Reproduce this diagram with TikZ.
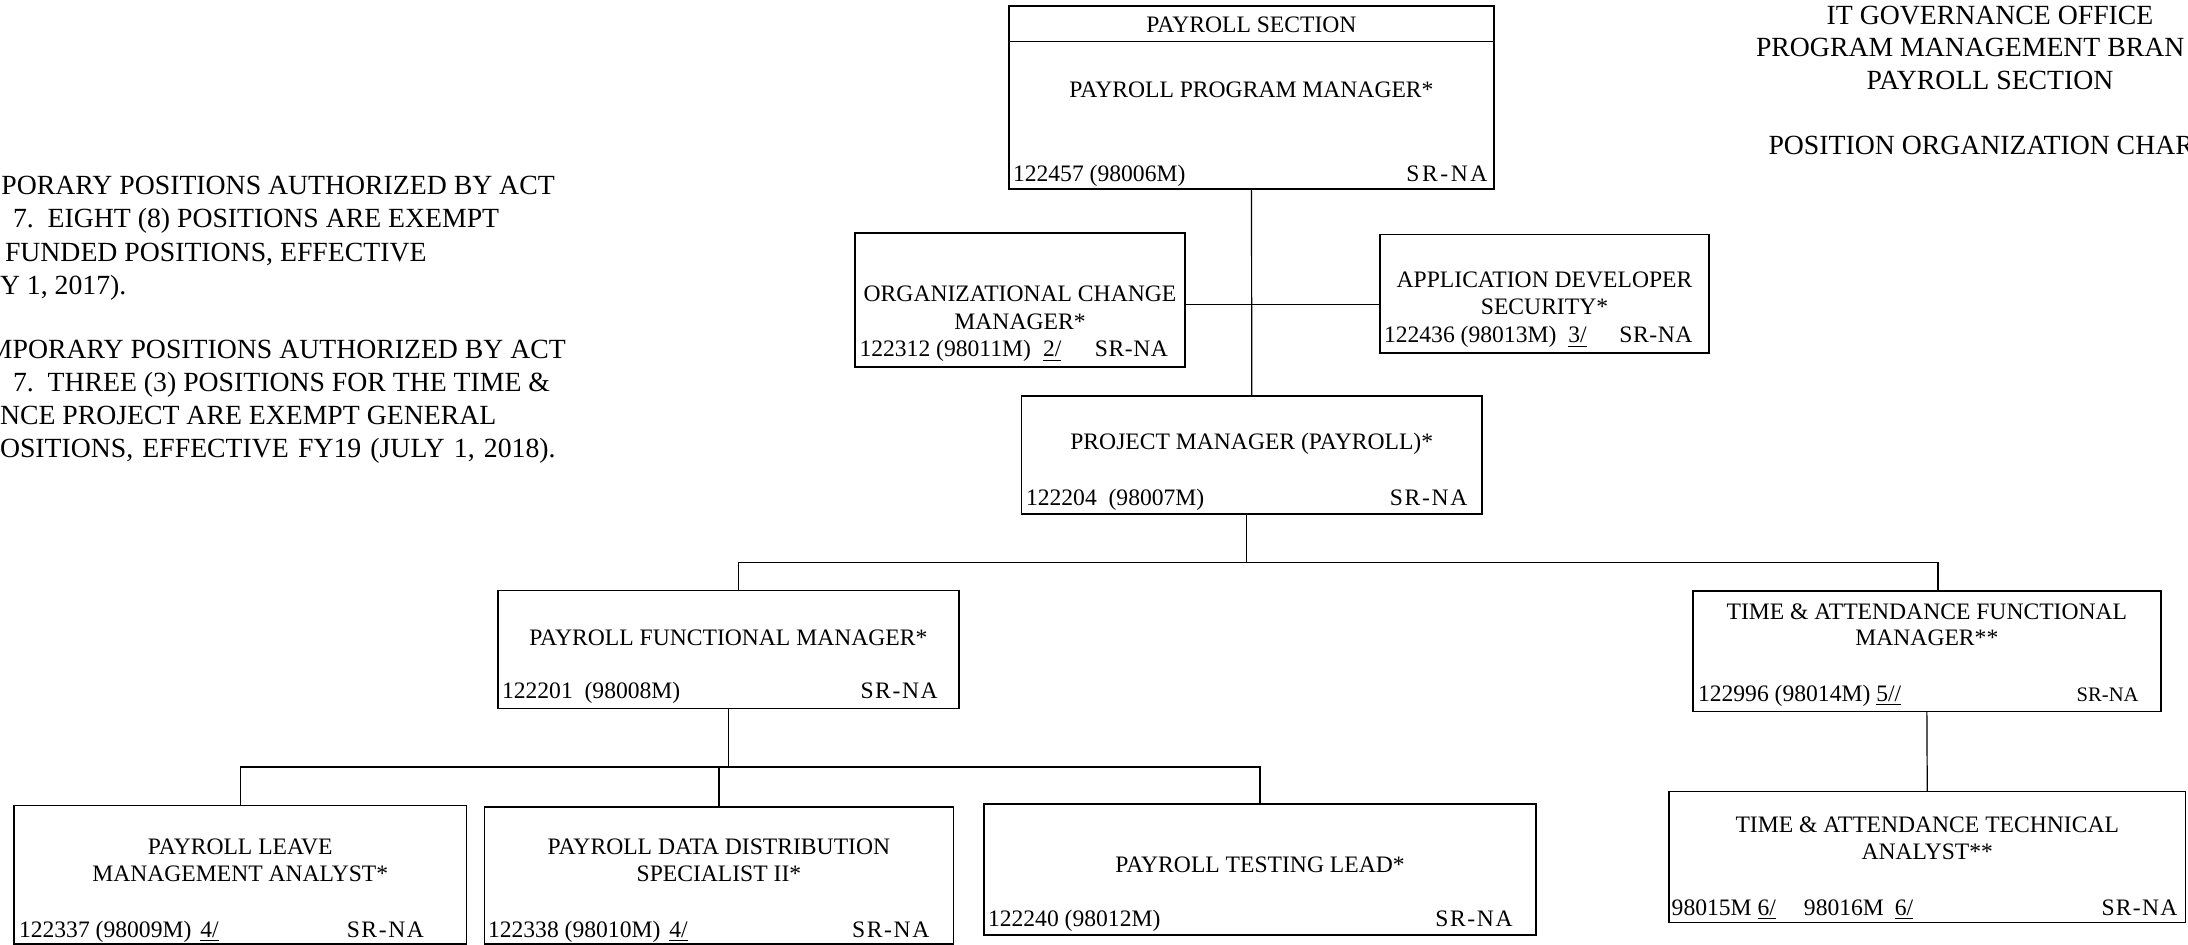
\documentclass[tikz,border=0pt]{standalone}
\usepackage{fontspec}
\setmainfont{Liberation Serif}
\newcommand\srna[1]{S\kern#1R\kern#1-\kern#1N\kern#1A}
\newcommand\pbox[5]{\node[box,minimum width={(#4-#2)*0.5pt},minimum height={(#5-#3)*0.5pt}] (#1) at ({(#2+#4)/2},{(#3+#5)/2}) {};}
\begin{document}
\begin{tikzpicture}[x=0.5pt,y=-0.5pt,
 box/.style={draw,line width=0.8pt,inner sep=0pt,outer sep=0pt},
 conn/.style={line width=0.6pt},
 bt/.style={font=\fontsize{11.8}{14}\selectfont,inner sep=0pt,outer sep=0pt,anchor=base},
 btl/.style={bt,anchor=base west},
 btr/.style={bt,anchor=base east},
 nt/.style={font=\fontsize{13.87}{16}\selectfont,inner sep=0pt,outer sep=0pt,anchor=base west},
 ntc/.style={nt,anchor=base}]
\useasboundingbox (0,0) rectangle (2188,945);
% boxes
\pbox{top}{1009}{6}{1494}{189}
\pbox{org}{855}{233}{1185}{367}
\pbox{app}{1380}{234.5}{1709}{353}
\pbox{pm}{1021.5}{396}{1482}{514}
\pbox{pfm}{498}{590.5}{958.7}{708.5}
\pbox{tafm}{1692.7}{591}{2161}{711.5}
\pbox{tata}{1669}{791.5}{2185.5}{922.5}
\pbox{plma}{14}{805.3}{466.5}{944}
\pbox{pdds}{484.5}{807}{953.3}{944}
\pbox{ptl}{984}{804}{1536}{935}
\coordinate (dv) at (0,41.5);
\draw[line width=0.8pt] (top.west |- dv) -- (top.east |- dv);
% connectors
\coordinate (hy) at (1250,304.5);
\coordinate (pb) at (1246.5,562.5);
\coordinate (b1) at (738.5,562.5);
\coordinate (b2) at (1938,562.5);
\coordinate (bb) at (729,767);
\draw[conn] (top.south) -- (pm.north);
\draw[conn] (hy -| org.east) -- (hy -| app.west);
\draw[conn] (pm.south -| pb) -- (pb);
\draw[conn] (pfm.north -| b1) -- (b1) -- (b2) -- (tafm.north -| b2);
\draw[conn] (tafm.south) -- (tata.north);
\draw[conn] (pfm.south) -- (pfm.south |- bb);
\draw[conn] (plma.north) -- (plma.north |- bb) -- (ptl.north |- bb) -- (ptl.north);
\draw[conn] (pdds.north) -- (pdds.north |- bb);
% top box
\node[bt] (t1) at (1251.5,33) {PAYROLL SECTION};
\node[bt] (t2) at (1251.5,98) {PAYROLL PROGRAM MANAGER*};
\node[btl] (t3) at (1013,182) {122457 (98006M)};
\node[btr] (t4) at (1487.5,182) {\srna{1.3pt}};
% org
\node[bt] (o1) at (1020,302) {ORGANIZATIONAL CHANGE};
\node[bt] (o2) at (1020,329.5) {MANAGER*};
\node[btl] (o3) at (859.5,357) {122312 (98011M)\hspace{6pt}\underline{2/}};
\node[btr] (o4) at (1168,357) {\srna{0.3pt}};
% app
\node[bt] (a1) at (1544.5,288) {APPLICATION DEVELOPER};
\node[bt] (a2) at (1544.5,314.5) {SECURITY*};
\node[btl] (a3) at (1384,343) {122436 (98013M)\hspace{6pt}\underline{3/}};
\node[btr] (a4) at (1692.5,343) {\srna{0.3pt}};
% pm
\node[bt] (p1) at (1251.75,450) {PROJECT MANAGER (PAYROLL)*};
\node[btl] (p2) at (1026,506) {122204\ \ (98007M)};
\node[btr] (p3) at (1467.5,506) {\srna{0.85pt}};
% pfm
\node[bt] (f1) at (728.35,646) {PAYROLL FUNCTIONAL MANAGER*};
\node[btl] (f2) at (502,698.5) {122201\ \ (98008M)};
\node[btr] (f3) at (937.7,698.5) {\srna{0.8pt}};
% tafm
\node[bt] (m1) at (1926.85,619.3) {TIME \& ATTENDANCE FUNCTIONAL};
\node[bt] (m2) at (1926.85,646) {MANAGER**};
\node[btl] (m3) at (1698,701.5) {122996 (98014M) \underline{5//}};
\node[btr,font=\fontsize{10.3}{12}\selectfont] (m4) at (2138.5,701.5) {SR-NA};
% tata
\node[bt] (s1) at (1927.25,832.3) {TIME \& ATTENDANCE TECHNICAL};
\node[bt] (s2) at (1927.25,859) {ANALYST**};
\node[btl] (s3) at (1671.7,915) {98015M \underline{6/}\hspace{14pt}98016M\hspace{5.5pt}\underline{6/}};
\node[btr] (s4) at (2177.5,915) {\srna{0.65pt}};
% plma
\node[bt] (l1) at (240.25,854.5) {PAYROLL LEAVE};
\node[bt] (l2) at (240.25,881.5) {MANAGEMENT ANALYST*};
\node[btl] (l3) at (19,937) {122337 (98009M)\hspace{4.5pt}\underline{4/}};
\node[btr] (l4) at (424,937) {\srna{0.8pt}};
% pdds
\node[bt] (d1) at (718.9,854.5) {PAYROLL DATA DISTRIBUTION};
\node[bt] (d2) at (718.9,881.5) {SPECIALIST II*};
\node[btl] (d3) at (488,937) {122338 (98010M)\hspace{4.5pt}\underline{4/}};
\node[btr] (d4) at (929.3,937) {\srna{0.8pt}};
% ptl
\node[bt] (e1) at (1260,872) {PAYROLL TESTING LEAD*};
\node[btl] (e2) at (988,926) {122240 (98012M)};
\node[btr] (e3) at (1512.6,926) {\srna{0.8pt}};
% title
\node[ntc] (h1) at (1990,24.5) {IT GOVERNANCE OFFICE};
\node[nt] (h2) at (1756,57) {PROGRAM MANAGEMENT BRAN};
\node[ntc] (h3) at (1990,89.5) {PAYROLL SECTION};
\node[nt] (h4) at (1768.5,155) {POSITION ORGANIZATION CHAR};
% notes
\node[nt] (n1) at (1.5,195) {PORARY POSITIONS AUTHORIZED BY ACT};
\node[nt] (n2) at (13,228) {7.\ \ EIGHT (8) POSITIONS ARE EXEMPT};
\node[nt] (n3) at (5,261.5) {FUNDED POSITIONS, EFFECTIVE};
\node[nt] (n4) at (0,295) {Y 1, 2017).};
\node[nt] (n5) at (-12,358.5) {MPORARY POSITIONS AUTHORIZED BY ACT};
\node[nt] (n6) at (13,391.5) {7.\ \ THREE (3) POSITIONS FOR THE TIME \&};
\node[nt] (n7) at (0,425) {NCE PROJECT ARE EXEMPT GENERAL};
\node[nt] (n8) at (0,458) {OSITIONS,\hspace{4.6pt}EFFECTIVE\hspace{4.6pt}FY19\hspace{4.6pt}(JULY\hspace{4.6pt}1,\hspace{4.6pt}2018).};
\end{tikzpicture}
\end{document}
